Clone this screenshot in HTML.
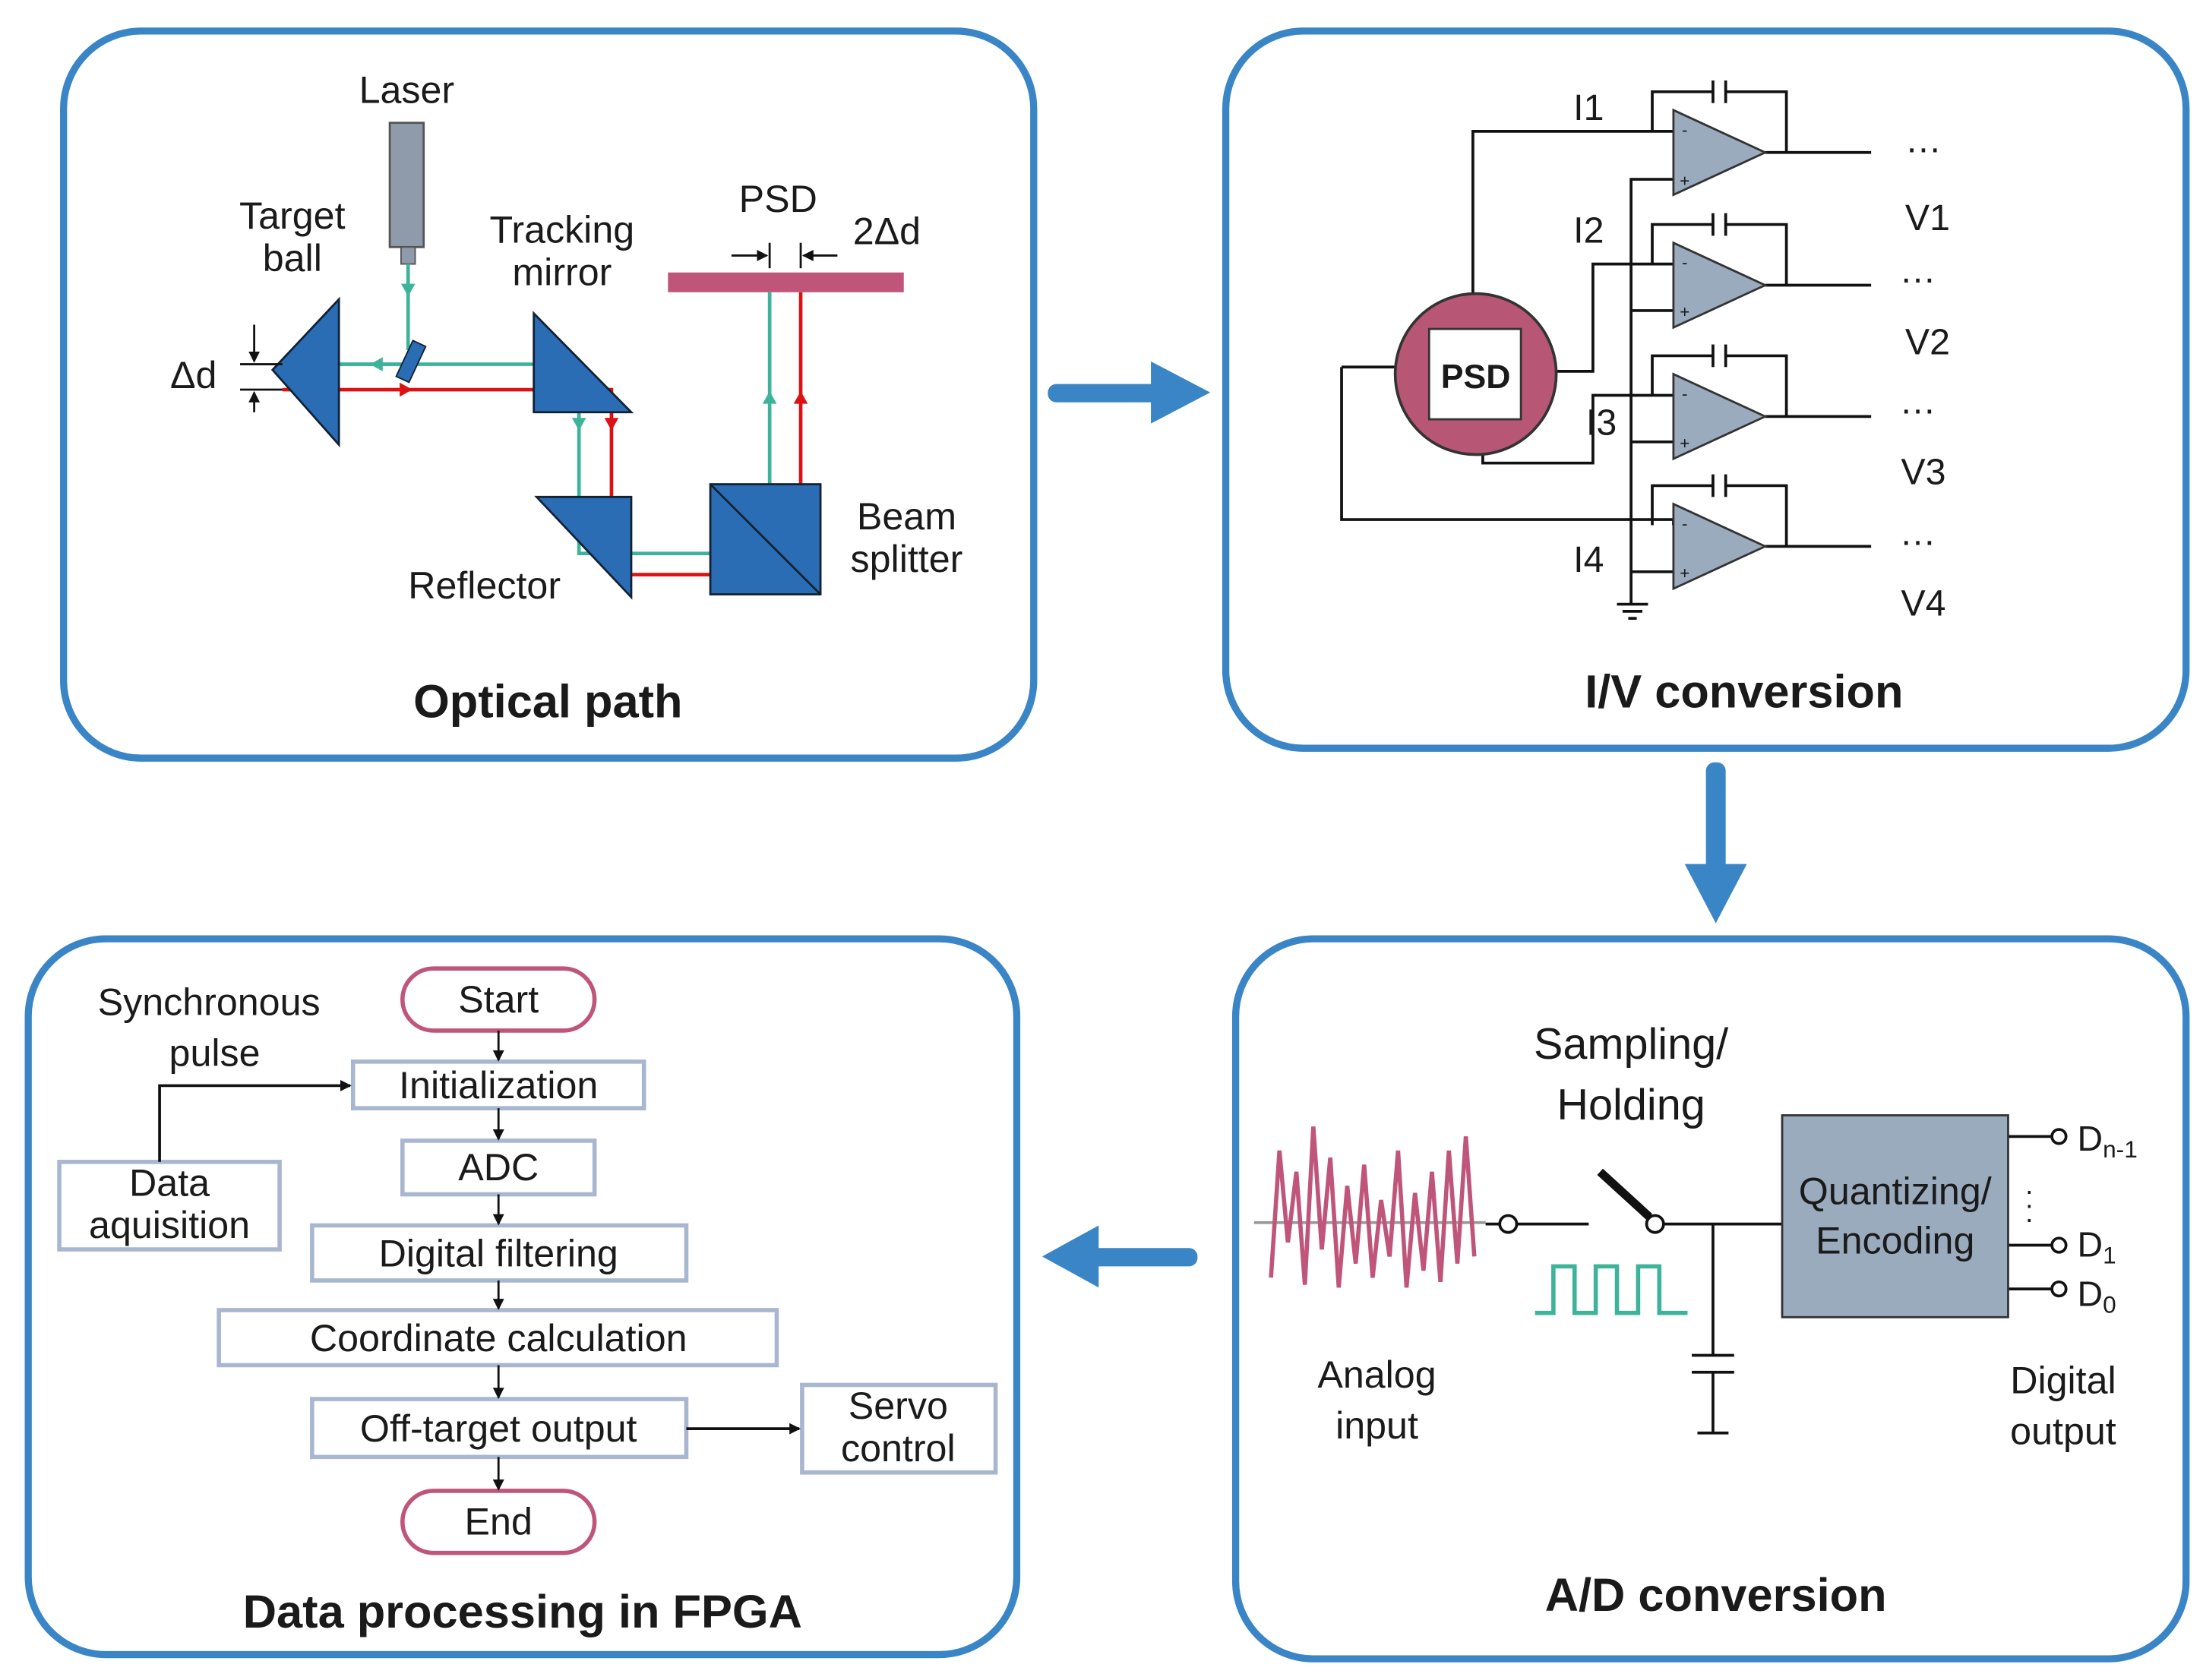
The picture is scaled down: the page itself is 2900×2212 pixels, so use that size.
<!DOCTYPE html>
<html><head><meta charset="utf-8"><style>
html,body{margin:0;padding:0;background:#fff;width:2900px;height:2212px;overflow:hidden}
svg{display:block}
text{font-family:"Liberation Sans",Arial,sans-serif;fill:#1a1a1a}
</style></head><body>
<svg width="2900" height="2212" viewBox="0 0 1560 1190" preserveAspectRatio="none" xmlns="http://www.w3.org/2000/svg">
<defs>
<marker id="ab" markerWidth="8" markerHeight="8" refX="7" refY="4" orient="auto" markerUnits="userSpaceOnUse"><path d="M0,0 L8,4 L0,8 z" fill="#111"/></marker>
<marker id="ag" markerWidth="10" markerHeight="10" refX="5" refY="5" orient="auto" markerUnits="userSpaceOnUse"><path d="M0,1 L10,5 L0,9 z" fill="#3db39a"/></marker>
<marker id="ar" markerWidth="10" markerHeight="10" refX="5" refY="5" orient="auto" markerUnits="userSpaceOnUse"><path d="M0,1 L10,5 L0,9 z" fill="#d11"/></marker>
</defs>
<g fill="none" stroke="#3a85c6" stroke-width="5">
<rect x="45" y="22" width="687" height="515" rx="55"/>
<rect x="868" y="22" width="680" height="508" rx="55"/>
<rect x="875" y="665" width="673" height="510" rx="55"/>
<rect x="20" y="665" width="700" height="507" rx="55"/>
</g>
<!-- big arrows -->
<g fill="#3a85c6">
<rect x="742" y="272" width="80" height="13" rx="6"/><path d="M815,256 L857,278 L815,300 z"/>
<rect x="1208" y="540" width="14" height="80" rx="6"/><path d="M1193,612 L1215,654 L1237,612 z"/>
<rect x="770" y="884" width="78" height="13" rx="6"/><path d="M778,868 L738,890 L778,912 z"/>
</g>
<!-- Optical path -->
<rect x="276" y="87" width="24" height="88" fill="#8f9bab" stroke="#555" stroke-width="1.5"/>
<rect x="284" y="175" width="10" height="12" fill="#8f9bab" stroke="#555"/>
<g stroke="#3db39a" stroke-width="2.5" fill="none">
<line x1="289" y1="187" x2="289" y2="248"/>
<polyline points="289,258 200,258"/>
<polyline points="200,258 410,258 410,392 545,392 545,207"/>
</g>
<g stroke="#d11" stroke-width="2.5" fill="none">
<polyline points="200,276 433,276 433,407 567,407 567,207"/>
</g>
<path d="M289,210 l-5,-9 h10z" fill="#3db39a"/>
<path d="M262,258 l9,-5 v10z" fill="#3db39a"/>
<path d="M292,276 l-9,-5 v10z" fill="#d11"/>
<path d="M410,305 l-5,-9 h10z" fill="#3db39a"/>
<path d="M433,305 l-5,-9 h10z" fill="#d11"/>
<path d="M545,277 l-5,9 h10z" fill="#3db39a"/>
<path d="M567,277 l-5,9 h10z" fill="#d11"/>
<path d="M193,262 L240,212 L240,315 z" fill="#2a6db5" stroke="#123" stroke-width="1.5"/>
<rect x="286" y="242" width="10" height="28" fill="#2a6db5" stroke="#123" transform="rotate(25 291 256)"/>
<path d="M378,222 L378,292 L447,292 z" fill="#2a6db5" stroke="#123" stroke-width="1.5"/>
<path d="M380,352 L447,352 L447,423 z" fill="#2a6db5" stroke="#123" stroke-width="1.5"/>
<rect x="503" y="343" width="78" height="78" fill="#2a6db5" stroke="#123" stroke-width="1.5"/>
<line x1="503" y1="343" x2="581" y2="421" stroke="#123" stroke-width="1.5"/>
<rect x="473" y="193" width="167" height="14" fill="#c0557a"/>
<g stroke="#111" stroke-width="1.5">
<line x1="518" y1="181" x2="543" y2="181" marker-end="url(#ab)"/><line x1="593" y1="181" x2="569" y2="181" marker-end="url(#ab)"/>
<line x1="545" y1="172" x2="545" y2="190"/><line x1="567" y1="172" x2="567" y2="190"/>
<line x1="180" y1="230" x2="180" y2="256" marker-end="url(#ab)"/><line x1="180" y1="292" x2="180" y2="278" marker-end="url(#ab)"/>
<line x1="170" y1="258" x2="200" y2="258"/><line x1="170" y1="276" x2="200" y2="276"/>
</g>
<g font-size="27" text-anchor="middle">
<text x="288" y="73">Laser</text>
<text x="207" y="162">Target</text><text x="207" y="192">ball</text>
<text x="398" y="172">Tracking</text><text x="398" y="202">mirror</text>
<text x="551" y="150">PSD</text><text x="628" y="173">2Δd</text>
<text x="137" y="275">Δd</text>
<text x="343" y="424">Reflector</text>
<text x="642" y="375">Beam</text><text x="642" y="405">splitter</text>
<text x="388" y="508" font-size="33" font-weight="bold">Optical path</text>
</g>
<!-- I/V -->
<g stroke="#111" stroke-width="2" fill="none">
<polyline points="1043,208 1043,93 1185,93"/>
<polyline points="1102,263 1128,263 1128,187 1185,187"/>
<polyline points="1050,322 1050,328 1128,328 1128,280 1185,280"/>
<polyline points="950,260 950,368 1185,368 1185,372"/>
<line x1="950" y1="260" x2="988" y2="260"/>
<polyline points="1185,127 1155,127 1155,428"/>
<line x1="1155" y1="220" x2="1185" y2="220"/><line x1="1155" y1="313" x2="1185" y2="313"/><line x1="1155" y1="405" x2="1185" y2="405"/>
<line x1="1145" y1="428" x2="1167" y2="428"/><line x1="1149" y1="433" x2="1163" y2="433"/><line x1="1153" y1="438" x2="1159" y2="438"/>
<g id="fb"><polyline points="1170,93 1170,65 1213,65"/><polyline points="1222,65 1265,65 1265,108"/><line x1="1213" y1="57" x2="1213" y2="73"/><line x1="1222" y1="57" x2="1222" y2="73"/><line x1="1250" y1="108" x2="1325" y2="108"/></g>
<use href="#fb" y="94"/><use href="#fb" y="187"/><use href="#fb" y="279"/>
</g>
<g fill="#9aabbd" stroke="#333" stroke-width="1.5">
<path d="M1185,78 L1185,138 L1250,108 z"/><path d="M1185,172 L1185,232 L1250,202 z"/>
<path d="M1185,265 L1185,325 L1250,295 z"/><path d="M1185,357 L1185,417 L1250,387 z"/>
</g>
<g font-size="12" text-anchor="middle">
<text x="1193" y="96">-</text><text x="1193" y="132">+</text><text x="1193" y="190">-</text><text x="1193" y="225">+</text>
<text x="1193" y="283">-</text><text x="1193" y="318">+</text><text x="1193" y="375">-</text><text x="1193" y="410">+</text>
</g>
<circle cx="1045" cy="265" r="57" fill="#b85676" stroke="#333" stroke-width="2"/>
<rect x="1012" y="233" width="65" height="64" fill="#fff" stroke="#333" stroke-width="1.5"/>
<text x="1045" y="275" font-size="24" font-weight="bold" text-anchor="middle">PSD</text>
<g font-size="26" text-anchor="middle">
<text x="1125" y="85">I1</text><text x="1125" y="172">I2</text><text x="1134" y="308">I3</text><text x="1125" y="405">I4</text>
<text x="1362" y="108">…</text><text x="1358" y="200">…</text><text x="1358" y="293">…</text><text x="1358" y="386">…</text>
<text x="1365" y="163">V1</text><text x="1365" y="251">V2</text><text x="1362" y="343">V3</text><text x="1362" y="436">V4</text>
<text x="1235" y="501" font-size="33" font-weight="bold">I/V conversion</text>
</g>
<!-- A/D -->
<line x1="888" y1="866" x2="1052" y2="866" stroke="#999" stroke-width="2"/>
<polyline fill="none" stroke="#c0557a" stroke-width="3" points="900,905 906,815 912,880 918,830 924,910 930,798 936,885 942,820 948,912 954,840 960,895 966,825 972,905 978,850 984,890 990,815 996,912 1002,845 1008,900 1014,830 1020,908 1026,815 1032,895 1038,805 1044,890"/>
<g stroke="#111" stroke-width="2" fill="none">
<line x1="1052" y1="867" x2="1062" y2="867"/><circle cx="1068" cy="867" r="6" fill="#fff"/>
<line x1="1074" y1="867" x2="1125" y2="867"/>
<line x1="1133" y1="830" x2="1168" y2="862" stroke-width="6"/>
<circle cx="1172" cy="867" r="6" fill="#fff"/>
<line x1="1178" y1="867" x2="1262" y2="867"/>
<line x1="1213" y1="867" x2="1213" y2="960"/><line x1="1198" y1="960" x2="1228" y2="960"/><line x1="1198" y1="972" x2="1228" y2="972"/>
<line x1="1213" y1="972" x2="1213" y2="1015"/><line x1="1202" y1="1015" x2="1224" y2="1015"/>
<line x1="1422" y1="805" x2="1453" y2="805"/><circle cx="1458" cy="805" r="5" fill="#fff"/>
<line x1="1422" y1="882" x2="1453" y2="882"/><circle cx="1458" cy="882" r="5" fill="#fff"/>
<line x1="1422" y1="913" x2="1453" y2="913"/><circle cx="1458" cy="913" r="5" fill="#fff"/>
</g>
<polyline fill="none" stroke="#3db39a" stroke-width="3" points="1087,930 1100,930 1100,897 1115,897 1115,930 1130,930 1130,897 1145,897 1145,930 1160,930 1160,897 1175,897 1175,930 1195,930"/>
<rect x="1262" y="790" width="160" height="143" fill="#9aabbd" stroke="#333" stroke-width="1.5"/>
<g font-size="27" text-anchor="middle">
<text x="1342" y="853">Quantizing/</text><text x="1342" y="888">Encoding</text>
<text x="1155" y="750" font-size="31">Sampling/</text><text x="1155" y="793" font-size="31">Holding</text>
<text x="975" y="983">Analog</text><text x="975" y="1019">input</text>
<text x="1461" y="987">Digital</text><text x="1461" y="1023">output</text>
<text x="1437" y="850" font-size="20">·</text><text x="1437" y="860" font-size="20">·</text><text x="1437" y="870" font-size="20">·</text>
<text x="1215" y="1141" font-size="33" font-weight="bold">A/D conversion</text>
</g>
<g font-size="25"><text x="1471" y="815">D<tspan font-size="17" dy="5">n-1</tspan></text>
<text x="1471" y="890">D<tspan font-size="17" dy="5">1</tspan></text>
<text x="1471" y="925">D<tspan font-size="17" dy="5">0</tspan></text></g>
<!-- FPGA -->
<g fill="#fff" stroke-width="3">
<rect x="285" y="686" width="136" height="44" rx="22" stroke="#c0557a"/>
<rect x="285" y="1056" width="136" height="44" rx="22" stroke="#c0557a"/>
<g stroke="#a9b6d0">
<rect x="250" y="752" width="206" height="33"/>
<rect x="285" y="808" width="136" height="38"/>
<rect x="221" y="868" width="265" height="39"/>
<rect x="155" y="928" width="395" height="39"/>
<rect x="221" y="991" width="265" height="41"/>
<rect x="42" y="823" width="156" height="62"/>
<rect x="568" y="981" width="137" height="62"/>
</g></g>
<g stroke="#111" stroke-width="1.5" fill="none">
<line x1="353" y1="730" x2="353" y2="751" marker-end="url(#ab)"/>
<line x1="353" y1="785" x2="353" y2="807" marker-end="url(#ab)"/>
<line x1="353" y1="846" x2="353" y2="867" marker-end="url(#ab)"/>
<line x1="353" y1="907" x2="353" y2="927" marker-end="url(#ab)"/>
<line x1="353" y1="967" x2="353" y2="990" marker-end="url(#ab)"/>
<line x1="353" y1="1032" x2="353" y2="1055" marker-end="url(#ab)"/>
<line x1="486" y1="1012" x2="566" y2="1012" stroke-width="2" marker-end="url(#ab)"/>
<polyline points="113,823 113,769 248,769" stroke-width="2" marker-end="url(#ab)"/>
</g>
<g font-size="27" text-anchor="middle">
<text x="353" y="717">Start</text><text x="353" y="1087">End</text>
<text x="353" y="778">Initialization</text><text x="353" y="836">ADC</text>
<text x="353" y="897">Digital filtering</text><text x="353" y="957">Coordinate calculation</text>
<text x="353" y="1021">Off-target output</text>
<text x="120" y="847">Data</text><text x="120" y="877">aquisition</text>
<text x="636" y="1005">Servo</text><text x="636" y="1035">control</text>
<text x="148" y="719">Synchronous</text><text x="152" y="755">pulse</text>
<text x="370" y="1153" font-size="33" font-weight="bold">Data processing in FPGA</text>
</g>
</svg>
</body></html>
